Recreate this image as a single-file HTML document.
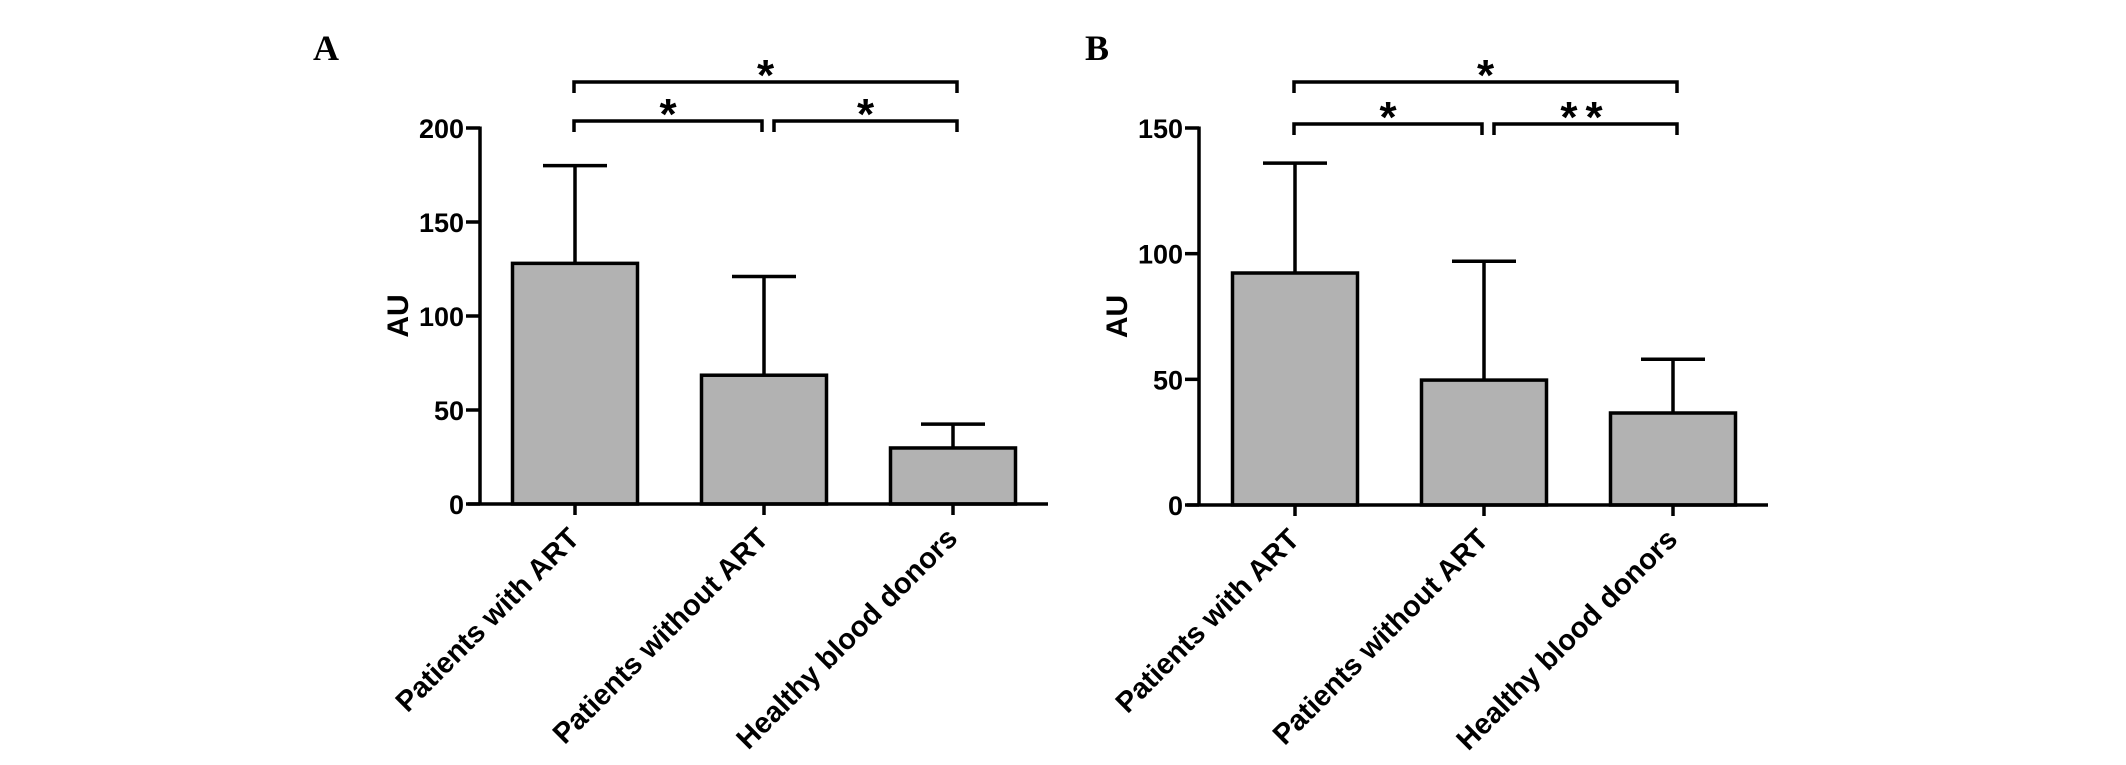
<!DOCTYPE html>
<html><head><meta charset="utf-8"><style>
body{margin:0;background:#fff;width:2126px;height:760px;overflow:hidden}
svg text{font-family:"Liberation Sans",Arial,sans-serif;font-weight:bold;fill:#000}
</style></head><body>
<svg id="fig" width="2126" height="760" viewBox="0 0 2126 760" xmlns="http://www.w3.org/2000/svg"></svg>
<script>
const categories = ["Patients with ART","Patients without ART","Healthy blood donors"];
const meansA = [128, 68.5, 29.8];
const errA = [180, 121, 42.5];
const ticksA = [0, 50, 100, 150, 200];
const meansB = [92.3, 49.7, 36.6];
const errB = [136, 97, 58];
const ticksB = [0, 50, 100, 150];
// order: [left low bracket, right low bracket, top bracket]
const sigA = ["*", "*", "*"];
const sigB = ["*", "**", "*"];

const NS = "http://www.w3.org/2000/svg";
const svg = document.getElementById('fig');
function mk(tag, attrs, parent, text){
  const e = document.createElementNS(NS, tag);
  for (const k in attrs) e.setAttribute(k, attrs[k]);
  if (text !== undefined) e.textContent = text;
  (parent||svg).appendChild(e);
  return e;
}
const SW = 3.5;
function panel(cfg){
  const g = mk('g', {});
  
  
  const y = v => cfg.y0 - (v / cfg.ymax) * (cfg.y0 - cfg.ytop);
  const x = i => cfg.cx0 + i * cfg.step;
  const bw = 125;
  const L = mk('text', {x: cfg.letterX, y: 60, 'font-size': 36, style: 'font-family:"Liberation Serif",serif;font-weight:bold'}, g, cfg.letter);
  
  
  cfg.means.forEach((m, i) => {
    const ln = mk('line', {x1: x(i), x2: x(i), y1: y(m), y2: y(cfg.err[i]), stroke: '#000', 'stroke-width': SW}, g);
    
    
    const cap = mk('line', {x1: x(i) - 32, x2: x(i) + 32, y1: y(cfg.err[i]), y2: y(cfg.err[i]), stroke: '#000', 'stroke-width': SW}, g);
    
    
    const r = mk('rect', {x: x(i) - bw/2, y: y(m), width: bw, height: cfg.y0 - y(m), fill: '#b2b2b2', stroke: '#000', 'stroke-width': SW}, g);
    
    
    const t = mk('line', {x1: x(i), x2: x(i), y1: cfg.y0, y2: cfg.y0 + 11, stroke: '#000', 'stroke-width': SW}, g);
    
    
    const lb = mk('text', {x: 0, y: 0, 'font-size': 29, 'text-anchor': 'end', transform: `translate(${x(i)+6},${cfg.y0+36}) rotate(-45)`}, g, categories[i]);
    
    
  });
  const ya = mk('line', {x1: cfg.ax, x2: cfg.ax, y1: cfg.ytop - 1.5, y2: cfg.y0 + 1.5, stroke: '#000', 'stroke-width': SW}, g);
  
  
  const xa = mk('line', {x1: cfg.ax - 12, x2: cfg.xend, y1: cfg.y0, y2: cfg.y0, stroke: '#000', 'stroke-width': SW}, g);
  
  
  cfg.ticks.forEach(v => {
    const t = mk('line', {x1: cfg.ax - 14, x2: cfg.ax, y1: y(v), y2: y(v), stroke: '#000', 'stroke-width': SW}, g);
    
    
    const tl = mk('text', {x: cfg.ax - 16, y: y(v) + 10, 'font-size': 27, 'text-anchor': 'end'}, g, String(v));
    
    
  });
  const au = mk('text', {x: 0, y: 0, 'font-size': 30, 'text-anchor': 'middle', transform: `translate(${cfg.ax - 72},${(cfg.y0+cfg.ytop)/2}) rotate(-90)`}, g, 'AU');
  
  
  const br = [
    [x(0) - 1, x(1) - 2, cfg.lowY],
    [x(1) + 10, x(2) + 4, cfg.lowY],
    [x(0) - 1, x(2) + 4, 82]
  ];
  br.forEach((b, k) => {
    const by = b[2];
    const p = mk('path', {d: `M${b[0]},${by+11} V${by} H${b[1]} V${by+11}`, fill: 'none', stroke: '#000', 'stroke-width': SW}, g);
    
    
    const s = mk('text', {x: (b[0]+b[1])/2, y: by + 8, 'font-size': 44, 'text-anchor': 'middle', 'letter-spacing': cfg.sig[k].length>1?8:0}, g, cfg.sig[k]);
    
    
  });
}
panel({name:'panel-a', letter:'A', letterX:313, ax:480, xend:1048, y0:504, ytop:128, ymax:200, cx0:575, step:189, means:meansA, err:errA, ticks:ticksA, sig:sigA, lowY:121});
panel({name:'panel-b', letter:'B', letterX:1085, ax:1199, xend:1768, y0:505, ytop:128, ymax:150, cx0:1295, step:189, means:meansB, err:errB, ticks:ticksB, sig:sigB, lowY:124});
</script>
</body></html>
